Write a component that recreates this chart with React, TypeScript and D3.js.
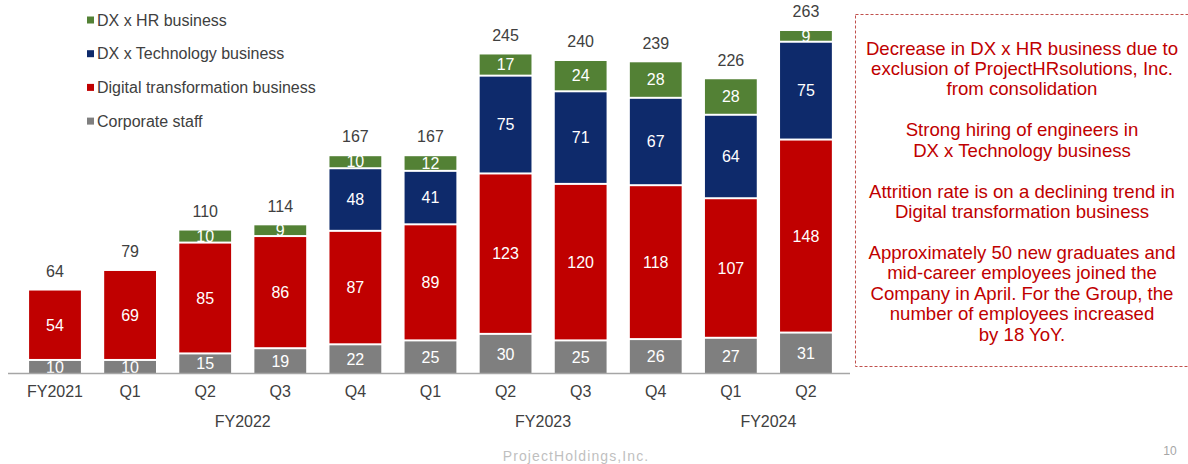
import React from "react";
import * as d3 from "d3";

const categories = ["FY2021", "Q1", "Q2", "Q3", "Q4", "Q1", "Q2", "Q3", "Q4", "Q1", "Q2"];
const groups = [
  { label: "FY2022", from: 1, to: 4 },
  { label: "FY2023", from: 5, to: 8 },
  { label: "FY2024", from: 9, to: 10 },
];
const corporateStaff = [10, 10, 15, 19, 22, 25, 30, 25, 26, 27, 31];
const digitalTransformation = [54, 69, 85, 86, 87, 89, 123, 120, 118, 107, 148];
const dxTechnology = [0, 0, 0, 0, 48, 41, 75, 71, 67, 64, 75];
const dxHR = [0, 0, 10, 9, 10, 12, 17, 24, 28, 28, 9];
const totals = [64, 79, 110, 114, 167, 167, 245, 240, 239, 226, 263];

const seriesList = [
  { name: "Corporate staff", values: corporateStaff, color: "#7F7F7F" },
  { name: "Digital transformation business", values: digitalTransformation, color: "#C00000" },
  { name: "DX x Technology business", values: dxTechnology, color: "#0E2A6B" },
  { name: "DX x HR business", values: dxHR, color: "#538135" },
];
const legendOrder = ["DX x HR business", "DX x Technology business", "Digital transformation business", "Corporate staff"];

const noteParagraphs = [
  ["Decrease in DX x HR business due to", "exclusion of ProjectHRsolutions, Inc.", "from consolidation"],
  ["Strong hiring of engineers in", "DX x Technology business"],
  ["Attrition rate is on a declining trend in", "Digital transformation business"],
  ["Approximately 50 new graduates and", "mid-career employees joined the", "Company in April. For the Group, the", "number of employees increased", "by 18 YoY."],
];

const FONT = "'Liberation Sans', Arial, sans-serif";

export default function App() {
  const W = 1188, H = 464;
  const baseY = 373;
  const x = d3
    .scaleBand<number>()
    .domain(d3.range(categories.length))
    .range([17.45, 843.5])
    .paddingInner(0.31)
    .paddingOuter(0.155);
  const y = d3.scaleLinear().domain([0, 263]).range([baseY, 30]);
  const bw = x.bandwidth();

  const rects: React.ReactNode[] = [];
  categories.forEach((_, i) => {
    let cum = 0;
    seriesList.forEach((s, si) => {
      const v = s.values[i];
      if (!v) return;
      const y0 = y(cum);
      const y1 = y(cum + v);
      const top = y1 + 1;
      const bottom = cum === 0 ? y0 : y0 - 1;
      const x0 = x(i)!;
      rects.push(
        <g key={`${i}-${si}`}>
          <rect x={x0} y={top} width={bw} height={Math.max(0, bottom - top)} fill={s.color} />
          <text
            x={x0 + bw / 2}
            y={(top + bottom) / 2}
            dy="0.36em"
            textAnchor="middle"
            fill="#fff"
            fontSize={16}
          >
            {v}
          </text>
        </g>
      );
      cum += v;
    });
  });

  let lineY = 48;
  const noteLines: React.ReactNode[] = [];
  noteParagraphs.forEach((p, pi) => {
    p.forEach((l, li) => {
      noteLines.push(
        <text key={`${pi}-${li}`} x={1022} y={lineY} dy="0.36em" textAnchor="middle" fill="#C00000" fontSize={18.6}>
          {l}
        </text>
      );
      lineY += 20.4;
    });
    lineY += 20.5;
  });

  return (
    <svg width={W} height={H} style={{ position: "absolute", left: 0, top: 0, fontFamily: FONT }}>
      <rect width={W} height={H} fill="#fff" />
      {legendOrder.map((n, k) => {
        const s = seriesList.find((d) => d.name === n)!;
        const ly = 20 + k * 33.7;
        return (
          <g key={n}>
            <rect x={87} y={ly - 3.5} width={7} height={7} fill={s.color} />
            <text x={97} y={ly} dy="0.36em" fill="#404040" fontSize={16}>
              {n}
            </text>
          </g>
        );
      })}
      {rects}
      {totals.map((t, i) => (
        <text key={i} x={x(i)! + bw / 2} y={y(t) - 18.5} dy="0.36em" textAnchor="middle" fill="#404040" fontSize={16}>
          {t}
        </text>
      ))}
      <line x1={8} x2={850} y1={baseY + 0.5} y2={baseY + 0.5} stroke="#A6A6A6" strokeWidth={1.5} />
      {categories.map((c, i) => (
        <text key={i} x={x(i)! + bw / 2} y={391} dy="0.36em" textAnchor="middle" fill="#404040" fontSize={16}>
          {c}
        </text>
      ))}
      {groups.map((g) => (
        <text
          key={g.label}
          x={(x(g.from)! + x(g.to)! + bw) / 2}
          y={421}
          dy="0.36em"
          textAnchor="middle"
          fill="#404040"
          fontSize={16}
        >
          {g.label}
        </text>
      ))}
      <rect x={855.5} y={14.5} width={345} height={352} fill="none" stroke="#C0504D" strokeWidth={1} strokeDasharray="3,2" />
      {noteLines}
      <text x={576} y={456} dy="0.36em" textAnchor="middle" fill="#BFBFBF" fontSize={14} letterSpacing={1.1}>
        ProjectHoldings,Inc.
      </text>
      <text x={1170} y={451} dy="0.36em" textAnchor="middle" fill="#A6A6A6" fontSize={12}>
        10
      </text>
    </svg>
  );
}
